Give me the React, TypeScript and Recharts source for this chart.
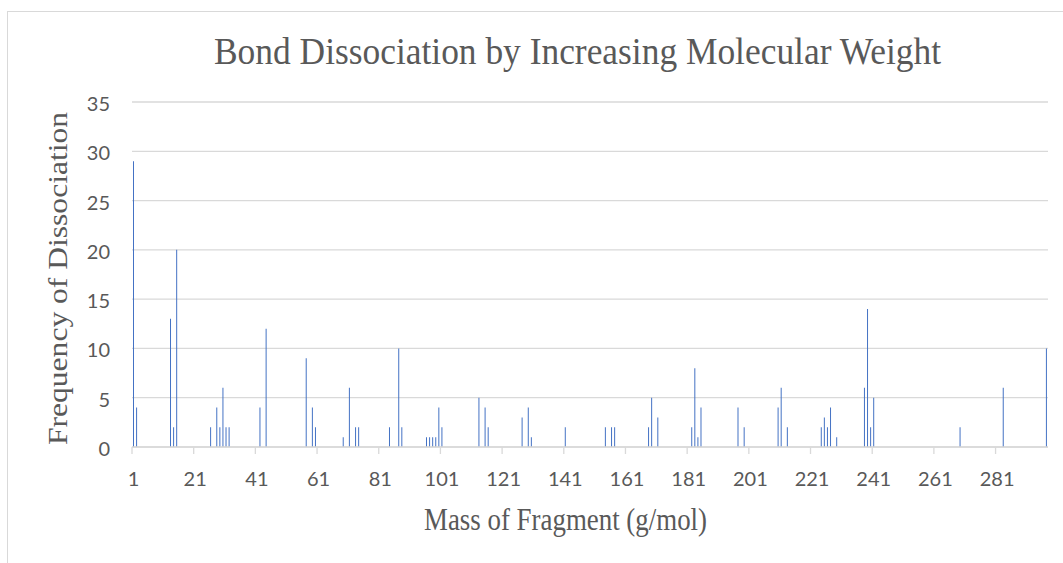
import React from "react"
import { BarChart, Bar, XAxis, YAxis, CartesianGrid } from "recharts"

// masses run 1..297 g/mol on a category axis, most of them have no dissociation
const massCount = 297
const peakMasses = [
  1, 2, 13, 14, 15, 26, 28, 29, 30, 31, 32, 42, 44, 57, 59, 60, 69, 71, 73, 74,
  84, 87, 88, 96, 97, 98, 99, 100, 101, 113, 115, 116, 127, 129, 130, 141, 154,
  156, 157, 168, 169, 171, 182, 183, 184, 185, 197, 199, 210, 211, 213, 224,
  225, 226, 227, 229, 238, 239, 240, 241, 269, 283, 297,
]
const peakCounts = [
  29, 4, 13, 2, 20, 2, 4, 2, 6, 2, 2, 4, 12, 9, 4, 2, 1, 6, 2, 2,
  2, 10, 2, 1, 1, 1, 1, 4, 2, 5, 4, 2, 3, 4, 1, 2, 2,
  2, 2, 2, 5, 3, 2, 8, 1, 4, 4, 2, 4, 6, 2, 2,
  3, 2, 4, 1, 6, 14, 2, 5, 2, 6, 10,
]
const yTicks = [0, 5, 10, 15, 20, 25, 30, 35]

const chartTitle = "Bond Dissociation by Increasing Molecular Weight"
const xTitle = "Mass of Fragment (g/mol)"
const yTitle = "Frequency of Dissociation"

const data = Array.from({ length: massCount }, (_, i) => {
  const mass = i + 1
  const idx = peakMasses.indexOf(mass)
  return { mass, count: idx >= 0 ? peakCounts[idx] : 0 }
})

const W = 1063
const H = 563
const margin = { top: 102, right: 15, bottom: 76, left: 72 }
const yAxisWidth = 60
const xAxisHeight = 40
const plotLeft = margin.left + yAxisWidth
const plotBottom = H - margin.bottom - xAxisHeight
const band = (W - margin.right - plotLeft) / massCount

const textGrey = "#595959"
const lineGrey = "#D9D9D9"
const tickFont = "Lato, 'Open Sans', sans-serif"
const serif = "'Liberation Serif', 'Times New Roman', serif"

// excel puts the tick marks between categories, labels on the category
const XTick = (props: any) => {
  const { x, payload } = props
  const tx = x - band / 2
  return (
    <g>
      <line x1={tx} x2={tx} y1={plotBottom} y2={plotBottom + 7} stroke={lineGrey} strokeWidth={1.3} />
      <text x={x} y={plotBottom + 39} textAnchor="middle" fill={textGrey} fontSize={20} fontFamily={tickFont}>
        {payload.value}
      </text>
    </g>
  )
}

const YTick = (props: any) => {
  const { y, payload } = props
  return (
    <text x={plotLeft - 22} y={y + 9} textAnchor="end" fill={textGrey} fontSize={20} fontFamily={tickFont}>
      {payload.value}
    </text>
  )
}

export default function App() {
  return (
    <div style={{ position: "absolute", left: 0, top: 0, width: W, height: H, overflow: "hidden", background: "#fff" }}>
      <div
        style={{
          position: "absolute",
          left: 7,
          top: 11,
          width: W + 50,
          height: H + 50,
          border: `1.5px solid ${lineGrey}`,
        }}
      />
      <div style={{ position: "absolute", left: 0, top: 0 }}>
        <BarChart width={W} height={H} data={data} margin={margin}>
          <CartesianGrid vertical={false} stroke={lineGrey} strokeWidth={1.3} />
          <XAxis
            dataKey="mass"
            type="category"
            interval={19}
            height={xAxisHeight}
            axisLine={{ stroke: lineGrey, strokeWidth: 1.3 }}
            tickLine={false}
            tick={<XTick />}
          />
          <YAxis
            width={yAxisWidth}
            domain={[0, 35]}
            ticks={yTicks}
            axisLine={false}
            tickLine={false}
            tick={<YTick />}
          />
          <Bar dataKey="count" fill="#4472C4" barSize={1} isAnimationActive={false} />
        </BarChart>
      </div>
      <svg width={W} height={H} style={{ position: "absolute", left: 0, top: 0, pointerEvents: "none" }}>
        <text
          x={577.5}
          y={64}
          textAnchor="middle"
          fontSize={37}
          fontFamily={serif}
          fill={textGrey}
          textLength={727}
          lengthAdjust="spacingAndGlyphs"
        >
          {chartTitle}
        </text>
        <text
          x={565.5}
          y={530}
          textAnchor="middle"
          fontSize={31}
          fontFamily={serif}
          fill={textGrey}
          textLength={283}
          lengthAdjust="spacingAndGlyphs"
        >
          {xTitle}
        </text>
        <text
          transform="translate(67, 278.5) rotate(-90)"
          x={0}
          y={0}
          textAnchor="middle"
          fontSize={28}
          fontFamily={serif}
          fill={textGrey}
          textLength={333}
          lengthAdjust="spacingAndGlyphs"
        >
          {yTitle}
        </text>
      </svg>
    </div>
  )
}
